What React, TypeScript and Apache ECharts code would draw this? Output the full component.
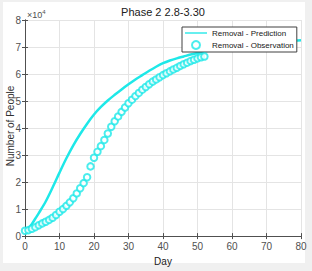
import React, { useEffect, useRef } from "react";
import * as echarts from "echarts";

const title = "Phase 2 2.8-3.30";
const xTicks = [0, 10, 20, 30, 40, 50, 60, 70, 80];
const yTickLabels = ["0", "1", "2", "3", "4", "5", "6", "7", "8"];

const predDays = [0, 1, 2, 3, 4, 6, 8, 10, 12, 14, 16, 18, 20, 22, 24, 26, 28, 30, 32, 34, 36, 38, 40, 42, 44, 46, 48, 50, 52, 55, 60, 65, 70, 75, 80];
const predValues = [0.22, 0.3, 0.45, 0.65, 0.85, 1.28, 1.8, 2.35, 2.88, 3.36, 3.78, 4.16, 4.5, 4.78, 5.02, 5.23, 5.43, 5.62, 5.8, 5.96, 6.12, 6.27, 6.4, 6.5, 6.58, 6.65, 6.72, 6.78, 6.83, 6.9, 7.0, 7.08, 7.15, 7.2, 7.25];

const obsDays = Array.from({ length: 53 }, (_, i) => i);
const obsValues = [
  0.2, 0.22, 0.27, 0.33, 0.4, 0.47, 0.53, 0.6, 0.68, 0.78,
  0.9, 1.0, 1.12, 1.25, 1.4, 1.58, 1.77, 1.96, 2.18, 2.58,
  2.9, 3.12, 3.33, 3.56, 3.8, 4.05, 4.25, 4.43, 4.6, 4.76,
  4.92, 5.05, 5.18, 5.3, 5.42, 5.52, 5.62, 5.72, 5.8, 5.88,
  5.96, 6.03, 6.1, 6.17, 6.23, 6.3, 6.36, 6.42, 6.48, 6.53,
  6.58, 6.62, 6.65,
];

const SCALE = 10000;
const CYAN = "#1ee8e8";
const FONT = "Liberation Sans";

export default function App() {
  const ref = useRef<HTMLDivElement>(null);
  useEffect(() => {
    if (!ref.current) return;
    const chart = echarts.init(ref.current, null, { renderer: "svg" });
    const axisLine = { show: true, lineStyle: { color: "#505050", width: 1 } };
    chart.setOption({
      animation: false,
      backgroundColor: "#f0f0f0",
      textStyle: { fontFamily: FONT },
      graphic: [
        { type: "rect", shape: { x: 3, y: 2, width: 302, height: 261 }, style: { fill: "#ffffff" }, z: -10 },
        {
          type: "text",
          x: 27,
          y: 9,
          style: {
            text: "×10{s|4}",
            fontSize: 9,
            fill: "#505050",
            fontFamily: FONT,
            rich: { s: { fontSize: 6, verticalAlign: "top", fill: "#505050", fontFamily: FONT, padding: [0, 0, 5, 0] } },
          },
        },
        {
          type: "text",
          x: 10,
          y: 126,
          rotation: Math.PI / 2,
          style: { text: "Number of People", fontSize: 10, fill: "#303030", fontFamily: FONT, align: "center", verticalAlign: "middle" },
        },
      ],
      title: {
        text: title,
        left: 163,
        top: 6,
        padding: 0,
        textAlign: "center",
        textStyle: { fontSize: 11, fontWeight: "normal", color: "#202020", fontFamily: FONT },
      },
      grid: { left: 25, right: 11, top: 20, bottom: 34, show: false },
      legend: {
        left: 182,
        top: 27,
        orient: "vertical",
        backgroundColor: "#ffffff",
        borderColor: "#404040",
        borderWidth: 1,
        borderRadius: 0,
        padding: [2, 3, 2, 3],
        itemGap: 3,
        itemWidth: 22,
        itemHeight: 8,
        textStyle: { fontSize: 8, color: "#202020", fontFamily: FONT },
        data: [
          { name: "Removal - Prediction", icon: "path://M0,3.2H26V4.8H0Z" },
          { name: "Removal - Observation" },
        ],
      },
      xAxis: [
        {
          type: "value",
          min: 0,
          max: 80,
          interval: 10,
          name: "Day",
          nameLocation: "middle",
          nameGap: 18,
          nameTextStyle: { fontSize: 10, color: "#202020", fontFamily: FONT },
          axisLine,
          axisTick: { show: true, inside: true, length: 3, lineStyle: { color: "#505050" } },
          axisLabel: { fontSize: 10, color: "#505050", margin: 5, customValues: xTicks },
          splitLine: { show: true, lineStyle: { color: "#e4e4e4", width: 1 } },
        },
        {
          type: "value",
          position: "top",
          min: 0,
          max: 80,
          interval: 10,
          axisLine,
          axisTick: { show: true, inside: true, length: 3, lineStyle: { color: "#505050" } },
          axisLabel: { show: false },
          splitLine: { show: false },
        },
      ],
      yAxis: [
        {
          type: "value",
          min: 0,
          max: 8 * SCALE,
          interval: SCALE,
          axisLine,
          axisTick: { show: true, inside: true, length: 3, lineStyle: { color: "#505050" } },
          axisLabel: {
            fontSize: 10,
            color: "#505050",
            margin: 4,
            formatter: (v: number) => yTickLabels[Math.round(v / SCALE)] ?? "",
          },
          splitLine: { show: true, lineStyle: { color: "#e4e4e4", width: 1 } },
        },
        {
          type: "value",
          position: "right",
          min: 0,
          max: 8 * SCALE,
          interval: SCALE,
          axisLine,
          axisTick: { show: true, inside: true, length: 3, lineStyle: { color: "#505050" } },
          axisLabel: { show: false },
          splitLine: { show: false },
        },
      ],
      series: [
        {
          name: "Removal - Prediction",
          type: "line",
          smooth: 0.3,
          showSymbol: false,
          symbol: "none",
          data: predDays.map((d, i) => [d, predValues[i] * SCALE]),
          lineStyle: { color: CYAN, width: 2.5 },
          itemStyle: { color: CYAN },
          z: 3,
        },
        {
          name: "Removal - Observation",
          type: "scatter",
          symbol: "emptyCircle",
          symbolSize: 6.5,
          data: obsDays.map((d, i) => [d, obsValues[i] * SCALE]),
          itemStyle: { color: CYAN, borderWidth: 1.8 },
          z: 4,
        },
      ],
    });
    return () => chart.dispose();
  }, []);
  return <div ref={ref} style={{ position: "fixed", left: 0, top: 0, width: 312, height: 271 }} />;
}
